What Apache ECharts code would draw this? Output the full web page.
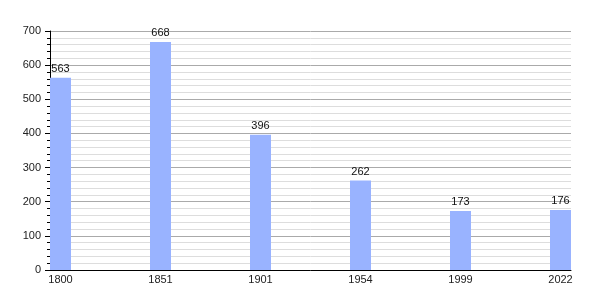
<!DOCTYPE html>
<html><head><meta charset="utf-8">
<script src="https://cdn.jsdelivr.net/npm/echarts@6/dist/echarts.min.js"></script>
<style>html,body{margin:0;padding:0;background:#fff}#c{width:600px;height:300px}</style>
</head><body><div id="c"></div>
<script>
const years = ['1800', '1851', '1901', '1954', '1999', '2022'];
const population = [563, 668, 396, 262, 173, 176];
const yTicks = [0, 100, 200, 300, 400, 500, 600, 700];

const chart = echarts.init(document.getElementById('c'), null, {renderer: 'canvas'});
const font = 'Liberation Sans, Arial, sans-serif';
chart.setOption({
  animation: false,
  backgroundColor: '#fff',
  grid: {left: 50, right: 29, top: 31, bottom: 30},
  xAxis: {
    type: 'value', min: -0.105, max: 5.105,
    axisLine: {show: true, onZero: false, lineStyle: {color: '#000', width: 1}},
    axisTick: {show: false},
    splitLine: {show: false},
    axisLabel: {
      customValues: years.map((_, i) => i),
      formatter: v => years[Math.round(v)],
      color: '#222', fontSize: 11, fontFamily: font, margin: 4
    }
  },
  yAxis: {
    type: 'value', min: yTicks[0], max: yTicks[yTicks.length - 1], interval: 100,
    axisLine: {show: true, onZero: false, lineStyle: {color: '#000', width: 1}},
    axisTick: {show: true, length: 5, lineStyle: {color: '#000'}},
    minorTick: {show: true, splitNumber: 5, length: 3, lineStyle: {color: '#000'}},
    splitLine: {show: true, lineStyle: {color: '#aaa', width: 1}},
    minorSplitLine: {show: true, lineStyle: {color: '#ddd', width: 1}},
    axisLabel: {color: '#222', fontSize: 11, fontFamily: font, margin: 9}
  },
  series: [{
    type: 'bar',
    barWidth: 21,
    data: population.map((v, i) => [i, v]),
    itemStyle: {color: '#99b3ff'},
    label: {show: true, position: 'top', distance: 3, color: '#111', fontSize: 11, fontFamily: font,
      formatter: p => p.value[1]}
  }]
});
</script></body></html>
